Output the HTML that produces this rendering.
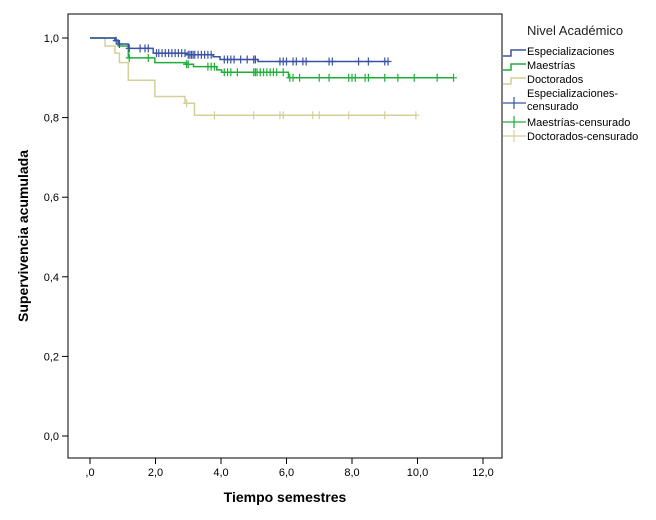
<!DOCTYPE html>
<html><head><meta charset="utf-8"><style>
body{margin:0;background:#fff;}
svg text{font-family:"Liberation Sans",Arial,sans-serif;}
</style></head><body>
<svg id="chart" width="656" height="515" xmlns="http://www.w3.org/2000/svg">
<rect x="68" y="14" width="434" height="444" fill="#fff" stroke="#000" stroke-width="1"/>
<g id="axes"></g>
<g id="series"></g>
<text x="28" y="236" transform="rotate(-90 28 236)" text-anchor="middle" font-size="14" font-weight="bold">Supervivencia acumulada</text>
<text x="285" y="502" text-anchor="middle" font-size="14" font-weight="bold">Tiempo semestres</text>
<g font-size="11">
<text x="527" y="35" font-size="13" fill="#222">Nivel Académico</text>
<g><path d="M503 56 H511 V50 H526" fill="none" stroke="#3a53a4" stroke-width="1.5"/><text x="527" y="55">Especializaciones</text></g>
<g><path d="M503 70 H511 V64 H526" fill="none" stroke="#1fae3a" stroke-width="1.5"/><text x="527" y="69">Maestrías</text></g>
<g><path d="M503 84 H511 V78 H526" fill="none" stroke="#d4cf9a" stroke-width="1.5"/><text x="527" y="83">Doctorados</text></g>
<g><path d="M503 103 H526 M514 97 V109" stroke="#3a53a4" stroke-width="1.2"/><text x="527" y="97">Especializaciones-</text><text x="527" y="110">censurado</text></g>
<g><path d="M503 122 H526 M514 116 V128" stroke="#1fae3a" stroke-width="1.2"/><text x="527" y="126">Maestrías-censurado</text></g>
<g><path d="M503 136 H526 M514 130 V142" stroke="#d4cf9a" stroke-width="1.2"/><text x="527" y="140">Doctorados-censurado</text></g>
</g>
</svg>
<script>
const xTicks=[0,2,4,6,8,10,12];
const xTickLabels=[",0","2,0","4,0","6,0","8,0","10,0","12,0"];
const yTicks=[0,0.2,0.4,0.6,0.8,1.0];
const yTickLabels=["0,0","0,2","0,4","0,6","0,8","1,0"];
const espTimes=[0,0.76,0.86,1.17,1.93,2.95,3.76,3.97,5.13];
const espSurv=[1,0.993,0.985,0.974,0.962,0.958,0.953,0.946,0.941];
const espEnd=9.06;
const espCens=[0.8,0.9,1.2,1.53,1.68,1.78,2.03,2.1,2.2,2.3,2.4,2.5,2.6,2.7,2.8,2.9,3.0,3.05,3.1,3.15,3.2,3.3,3.4,3.5,3.6,3.7,4.1,4.2,4.3,4.4,4.6,4.8,5.0,5.05,5.8,5.9,6.0,6.2,6.3,6.5,6.6,7.3,7.4,8.2,8.5,9.0,9.1];
const maeTimes=[0,0.76,0.86,1.17,1.98,2.95,3.16,3.87,4.02,6.06];
const maeSurv=[1,0.995,0.98,0.95,0.938,0.934,0.928,0.92,0.914,0.9];
const maeEnd=11.09;
const maeCens=[1.2,1.78,2.95,3.0,3.6,3.7,3.8,4.1,4.2,4.3,4.5,5.0,5.05,5.1,5.2,5.3,5.4,5.5,5.6,5.7,5.9,6.1,6.2,6.4,7.0,7.3,7.9,8.0,8.1,8.4,8.5,9.0,9.4,9.9,10.6,11.1];
const docTimes=[0,0.46,0.76,0.9,1.17,1.98,2.9,3.19];
const docSurv=[1,0.98,0.962,0.938,0.894,0.853,0.836,0.806];
const docEnd=9.95;
const docCens=[2.95,3.8,5.0,5.8,5.9,6.8,7.0,7.9,9.0,9.95];

const X=t=>90+t*32.75, Y=s=>436-s*398;
const NS="http://www.w3.org/2000/svg";
function mk(tag,attrs,parent){const e=document.createElementNS(NS,tag);for(const k in attrs)e.setAttribute(k,attrs[k]);parent.appendChild(e);return e;}
const axes=document.getElementById('axes'), ser=document.getElementById('series');
xTicks.forEach((v,i)=>{
  const l=mk('line',{x1:X(v),x2:X(v),y1:458,y2:464,stroke:'#000'},axes);
  
  
  const t=mk('text',{x:X(v),y:476,'text-anchor':'middle','font-size':11},axes);t.textContent=xTickLabels[i];
  
  
});
yTicks.forEach((v,i)=>{
  const l=mk('line',{x1:62,x2:68,y1:Y(v),y2:Y(v),stroke:'#000'},axes);
  
  
  const t=mk('text',{x:59,y:Y(v)+4,'text-anchor':'end','font-size':11},axes);t.textContent=yTickLabels[i];
  
  
});
function surv(times,s,t){let v=s[0];for(let i=0;i<times.length;i++)if(times[i]<=t)v=s[i];return v;}
function draw(times,s,end,cens,color,name){
  let d='M'+X(times[0])+' '+Y(s[0]);
  for(let i=1;i<times.length;i++){d+=' H'+X(times[i])+' V'+Y(s[i]);}
  d+=' H'+X(end);
  const p=mk('path',{d:d,fill:'none',stroke:color,'stroke-width':1.5},ser);
  
  
  cens.forEach(c=>{
    const y=Y(surv(times,s,c)),x=X(c);
    const m=mk('path',{d:`M${x-3.5} ${y} H${x+3.5} M${x} ${y-4} V${y+4}`,stroke:color,'stroke-width':1.2},ser);
    
    
  });
}
draw(docTimes,docSurv,docEnd,docCens,'#d4cf9a','doctorados');
draw(maeTimes,maeSurv,maeEnd,maeCens,'#1fae3a','maestrias');
draw(espTimes,espSurv,espEnd,espCens,'#3a53a4','especializaciones');
</script>
</body></html>
